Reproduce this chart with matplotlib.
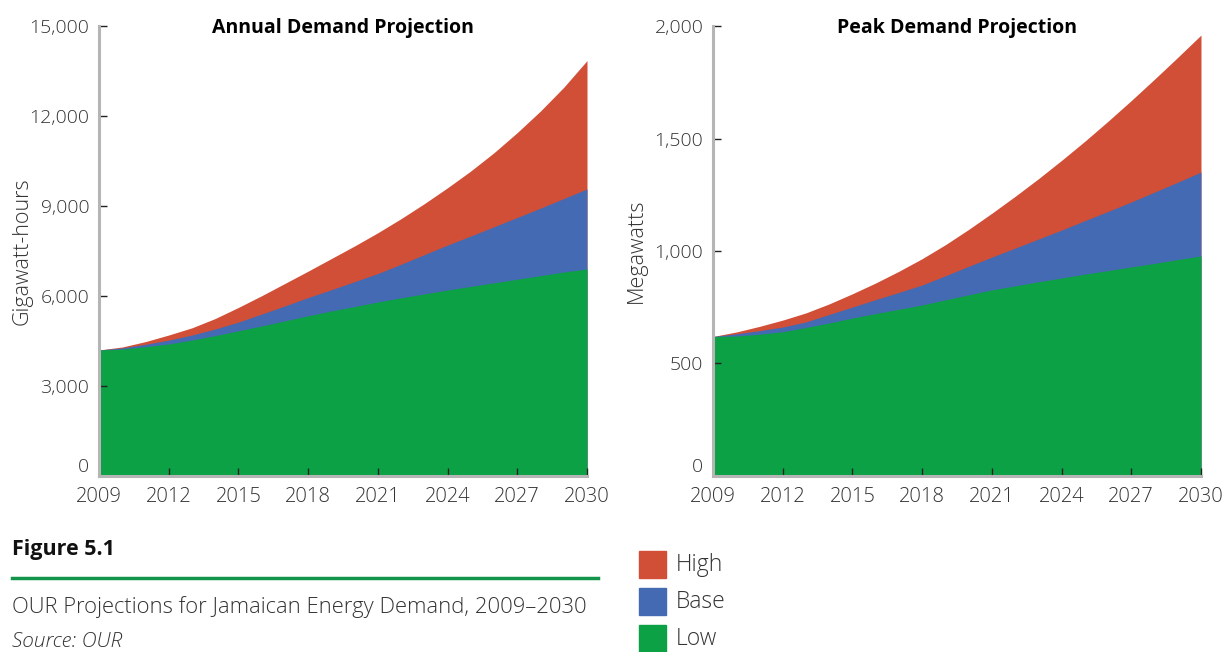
import matplotlib
matplotlib.use("Agg")
import matplotlib.pyplot as plt
from matplotlib.patches import Rectangle
from matplotlib.ticker import FuncFormatter

plt.rcParams['font.family'] = ['Open Sans', 'DejaVu Sans']

# data
years = list(range(2009, 2031))

annual_low = [4200, 4230, 4310, 4400, 4530, 4680, 4840, 5000, 5170, 5340, 5500,
              5650, 5800, 5940, 6070, 6200, 6320, 6440, 6560, 6680, 6800, 6900]
annual_base = [4200, 4270, 4390, 4530, 4700, 4900, 5130, 5400, 5670, 5950, 6210,
               6480, 6750, 7060, 7380, 7700, 8000, 8310, 8620, 8930, 9250, 9570]
annual_high = [4200, 4300, 4480, 4700, 4940, 5250, 5620, 6010, 6420, 6830, 7250,
               7670, 8110, 8580, 9080, 9610, 10170, 10780, 11450, 12170, 12960, 13850]

peak_low = [620, 622, 630, 641, 660, 680, 702, 722, 741, 760, 783,
            805, 827, 845, 863, 880, 897, 913, 929, 945, 962, 978]
peak_base = [620, 632, 646, 662, 685, 718, 751, 784, 816, 849, 890,
             932, 973, 1013, 1053, 1093, 1135, 1176, 1218, 1262, 1306, 1351]
peak_high = [620, 640, 665, 693, 725, 765, 810, 858, 910, 966, 1028,
             1096, 1168, 1243, 1321, 1403, 1488, 1577, 1669, 1764, 1861, 1960]

series_names = ['High', 'Base', 'Low']
colors = ['#D14F37', '#436AB2', '#0DA145']
xticks = [2009, 2012, 2015, 2018, 2021, 2024, 2027, 2030]

fig = plt.figure(figsize=(12.26, 6.52), dpi=100)


def draw_panel(rect, high, base, low, ymax, ystep, title, ylabel, ylab_x):
    ax = fig.add_axes(rect)
    for vals, c in zip([high, base, low], colors):
        ax.fill_between(years, 0, vals, color=c, linewidth=0)
    ax.set_xlim(2009, 2030)
    ax.set_ylim(0, ymax)
    ax.set_xticks(xticks)
    ax.set_yticks(range(0, ymax + 1, ystep))
    ax.yaxis.set_major_formatter(FuncFormatter(lambda v, p: f'{int(v):,}'))
    for s in ['top', 'right']:
        ax.spines[s].set_visible(False)
    for s in ['left', 'bottom']:
        ax.spines[s].set_color('#b5b5b5')
        ax.spines[s].set_linewidth(2.2)
        ax.spines[s].set_zorder(5)
    ax.tick_params(direction='in', length=6, width=1, color='#222222',
                   labelsize=14, labelcolor='#333333', pad=7)
    ax.tick_params(axis='x', pad=8, labelsize=14.5)
    for lab in ax.get_yticklabels() + ax.get_xticklabels():
        lab.set_fontweight('light')
    ax.get_yticklabels()[0].set_va('bottom')
    ax.text(0.5, 0.995, title, transform=ax.transAxes, ha='center', va='center',
            fontsize=14, fontweight='bold', color='black')
    fig.text(ylab_x, 0.615, ylabel, rotation=90, ha='center', va='center',
             fontsize=15.5, color='#333333', fontweight='light')
    return ax


draw_panel([0.0808, 0.270, 0.398, 0.690], annual_high, annual_base, annual_low,
           15000, 3000, 'Annual Demand Projection', 'Gigawatt-hours', 0.018)
draw_panel([0.5816, 0.270, 0.398, 0.690], peak_high, peak_base, peak_low,
           2000, 500, 'Peak Demand Projection', 'Megawatts', 0.519)

# caption
fig.text(12 / 1226, 1 - 550 / 652, 'Figure 5.1', fontsize=15.5, fontweight='bold',
         ha='left', va='center', color='#111111')
fig.add_artist(plt.Line2D([12 / 1226, 598 / 1226], [1 - 578 / 652] * 2,
                          color='#12954A', linewidth=2.5))
fig.text(12 / 1226, 1 - 607 / 652, 'OUR Projections for Jamaican Energy Demand, 2009\u20132030',
         fontsize=15.8, ha='left', va='center', color='#333333', fontweight='light')
fig.text(12 / 1226, 1 - 642 / 652, 'Source: OUR', fontsize=15, ha='left', va='center',
         color='#333333', style='italic', fontweight='light')

# legend
for i, (name, c) in enumerate(zip(series_names, colors)):
    top = 551 + i * 37
    fig.add_artist(Rectangle((639 / 1226, 1 - (top + 27) / 652), 27 / 1226, 27 / 652,
                             color=c, transform=fig.transFigure))
    fig.text(676 / 1226, 1 - (top + 14) / 652, name, fontsize=16.5, ha='left',
             va='center', color='#333333', fontweight='light')

fig.savefig('out.png', dpi=100)
